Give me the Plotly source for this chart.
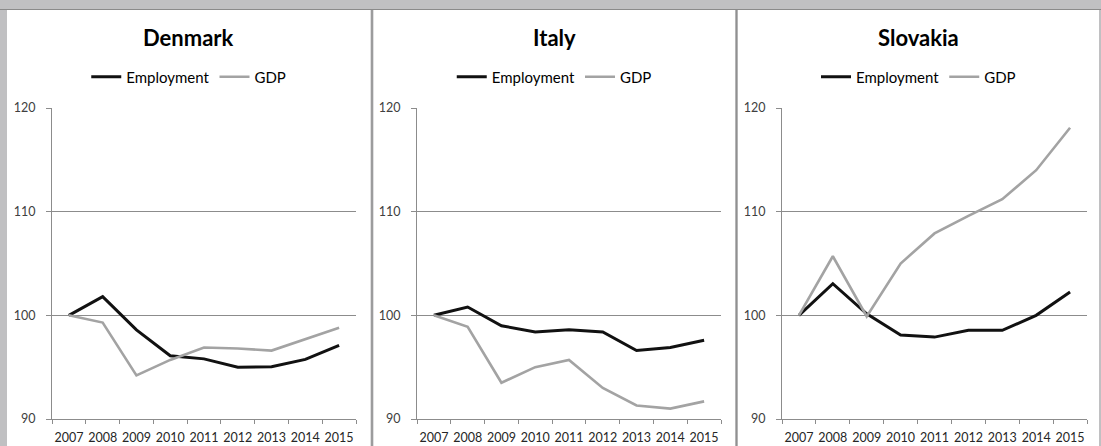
import plotly.graph_objects as go

W, H = 1101, 446

years = ["2007", "2008", "2009", "2010", "2011", "2012", "2013", "2014", "2015"]
countries = ["Denmark", "Italy", "Slovakia"]

denmark_employment = [100, 101.8, 98.6, 96.1, 95.8, 95.0, 95.05, 95.75, 97.1]
denmark_gdp = [100, 99.3, 94.2, 95.7, 96.9, 96.8, 96.6, 97.7, 98.8]

italy_employment = [100, 100.8, 99.0, 98.4, 98.6, 98.4, 96.6, 96.9, 97.6]
italy_gdp = [100, 98.9, 93.5, 95.0, 95.7, 93.0, 91.3, 91.0, 91.7]

slovakia_employment = [100, 103.05, 100.15, 98.1, 97.9, 98.55, 98.55, 100.0, 102.25]
slovakia_gdp = [100, 105.7, 99.9, 105.0, 107.9, 109.6, 111.2, 114.0, 118.1]

y_ticks = [90, 100, 110, 120]

series = {
    "Denmark": (denmark_employment, denmark_gdp),
    "Italy": (italy_employment, italy_gdp),
    "Slovakia": (slovakia_employment, slovakia_gdp),
}


def px(x):
    return x / W


def py(y):
    return 1 - y / H


FONT = "Lato"
EMP_COLOR = "#111111"
GDP_COLOR = "#a3a3a3"
AXIS_COLOR = "#8c8c8c"
BG = "#c0c0c2"

plot_x = [(52, 356), (417, 721), (782, 1087)]
panels = [(7, 370.5), (373.5, 735), (738, 1099)]
y_dom = [py(419), py(108)]

fig = go.Figure()
layout = dict(
    width=W, height=H, autosize=False,
    margin=dict(l=0, r=0, t=0, b=0, pad=0, autoexpand=False),
    paper_bgcolor=BG,
    plot_bgcolor="rgba(0,0,0,0)",
    font=dict(family=FONT, color="#262626"),
    showlegend=True,
)
shapes = []
annotations = []

for i, c in enumerate(countries):
    n = "" if i == 0 else str(i + 1)
    emp, gdp = series[c]
    leg = "legend" if i == 0 else "legend" + str(i + 1)
    fig.add_trace(go.Scatter(x=years, y=emp, mode="lines", name="Employment",
                             line=dict(color=EMP_COLOR, width=3),
                             xaxis="x" + n, yaxis="y" + n, legend=leg))
    fig.add_trace(go.Scatter(x=years, y=gdp, mode="lines", name="GDP",
                             line=dict(color=GDP_COLOR, width=2.6),
                             xaxis="x" + n, yaxis="y" + n, legend=leg))
    x0, x1 = plot_x[i]
    layout["xaxis" + n] = dict(
        domain=[px(x0), px(x1)], anchor="y" + n, type="category",
        range=[-0.5, 8.5], showline=True, linecolor=AXIS_COLOR, linewidth=1,
        ticks="outside", tickson="boundaries", ticklen=4, tickcolor=AXIS_COLOR,
        showgrid=False, tickangle=0, automargin=False,
        tickfont=dict(family=FONT, size=12.5, color="#262626"),
        ticklabelstandoff=7,
    )
    layout["yaxis" + n] = dict(
        domain=y_dom, anchor="x" + n, range=[90, 120], tickvals=y_ticks,
        showline=True, linecolor=AXIS_COLOR, linewidth=1,
        ticks="outside", ticklen=5, tickcolor=AXIS_COLOR,
        showgrid=True, gridcolor=AXIS_COLOR, gridwidth=1, zeroline=False,
        automargin=False,
        tickfont=dict(family=FONT, size=12.5, color="#404040"),
        ticklabelstandoff=8,
    )
    p0, p1 = panels[i]
    cx = (p0 + p1) / 2
    shapes.append(dict(type="rect", xref="paper", yref="paper",
                       x0=px(p0), x1=px(p1), y0=0, y1=py(10),
                       fillcolor="white", line=dict(width=0), layer="below"))
    annotations.append(dict(text="<b>" + c + "</b>", xref="paper", yref="paper",
                            x=px(cx), y=py(37), xanchor="center", yanchor="middle",
                            showarrow=False, font=dict(family=FONT, size=22, color="#000000")))
    layout[leg] = dict(
        orientation="h", x=px(cx), y=py(77), xanchor="center", yanchor="middle",
        bgcolor="rgba(0,0,0,0)", font=dict(family=FONT, size=15, color="#000000"),
        itemwidth=30, tracegroupgap=0,
    )

# dark edge lines of the frame
shapes.append(dict(type="line", xref="paper", yref="paper", x0=0, x1=1,
                   y0=py(9.5), y1=py(9.5), line=dict(color="#8a8a8a", width=1.2), layer="below"))
for sx in (372, 736.5):
    shapes.append(dict(type="line", xref="paper", yref="paper", x0=px(sx), x1=px(sx),
                       y0=0, y1=py(10), line=dict(color="#909090", width=1.5), layer="below"))

layout["shapes"] = shapes
layout["annotations"] = annotations
fig.update_layout(**layout)
fig.write_html(
    "out.html",
    config={"displayModeBar": False, "staticPlot": True},
    post_script="document.body.style.margin='0';document.body.style.overflow='hidden';",
)
